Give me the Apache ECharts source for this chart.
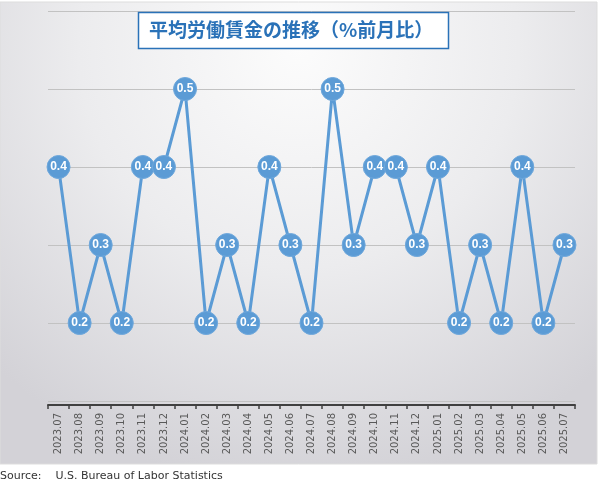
<!DOCTYPE html>
<html>
<head>
<meta charset="utf-8">
<script src="https://cdn.jsdelivr.net/npm/echarts@6/dist/echarts.min.js"></script>
<style>
  html, body { margin: 0; padding: 0; background: #fff; }
  #main { width: 600px; height: 488px; }
</style>
</head>
<body>
<div id="main"></div>
<script>
// 月次カテゴリ
var months = [
  '2023.07', '2023.08', '2023.09', '2023.10', '2023.11', '2023.12',
  '2024.01', '2024.02', '2024.03', '2024.04', '2024.05', '2024.06',
  '2024.07', '2024.08', '2024.09', '2024.10', '2024.11', '2024.12',
  '2025.01', '2025.02', '2025.03', '2025.04', '2025.05', '2025.06',
  '2025.07'
];
// 平均労働賃金 前月比（%）
var wageMoM = [
  0.4, 0.2, 0.3, 0.2, 0.4, 0.4,
  0.5, 0.2, 0.3, 0.2, 0.4, 0.3,
  0.2, 0.5, 0.3, 0.4, 0.4, 0.3,
  0.4, 0.2, 0.3, 0.2, 0.4, 0.2,
  0.3
];
var titleText = '平均労働賃金の推移（%前月比）';
var sourceText = 'Source:    U.S. Bureau of Labor Statistics';

var chart = echarts.init(document.getElementById('main'));

var option = {
  animation: false,
  backgroundColor: '#fff',
  graphic: [
    // 背景のグラデーション
    {
      type: 'rect',
      z: -10,
      shape: { x: 0, y: 2, width: 597, height: 462 },
      style: {
        fill: {
          type: 'radial', x: 0.5, y: 0.1, r: 0.95,
          colorStops: [
            { offset: 0, color: '#fcfcfc' },
            { offset: 0.5, color: '#ececee' },
            { offset: 1, color: '#d3d2d7' }
          ]
        },
        stroke: '#dddddd',
        lineWidth: 1
      }
    },
    // タイトル枠
    {
      type: 'rect',
      z: 10,
      shape: { x: 138.5, y: 12.5, width: 310, height: 36 },
      style: { fill: '#ffffff', stroke: '#2a72b8', lineWidth: 1.5 }
    },
    {
      type: 'text',
      z: 11,
      left: 149,
      top: 20,
      style: {
        text: titleText,
        fill: '#2a72b8',
        font: 'bold 19px "Noto Sans CJK JP"'
      }
    },
    {
      type: 'text',
      left: 0,
      top: 471,
      style: {
        text: sourceText,
        fill: '#333333',
        font: '11px "DejaVu Sans"'
      }
    }
  ],
  grid: {
    left: 48,
    right: 25,
    top: 11,
    height: 390
  },
  xAxis: {
    type: 'category',
    data: months,
    boundaryGap: true,
    offset: 4,
    axisLine: { lineStyle: { color: '#404040', width: 2 } },
    axisTick: { show: true, inside: false, length: 4, lineStyle: { color: '#404040', width: 1.5 } },
    axisLabel: {
      rotate: 90,
      interval: 0,
      margin: 8,
      color: '#595959',
      fontSize: 10,
      fontFamily: 'DejaVu Sans'
    }
  },
  yAxis: {
    type: 'value',
    min: 0.1,
    max: 0.6,
    interval: 0.1,
    axisLabel: { show: false },
    axisLine: { show: false },
    axisTick: { show: false },
    splitLine: { lineStyle: { color: '#c2c2c2', width: 1 } }
  },
  series: [
    {
      type: 'line',
      data: wageMoM,
      symbol: 'circle',
      symbolSize: 23,
      lineStyle: { color: '#5b9bd5', width: 3 },
      itemStyle: { color: '#5b9bd5', borderColor: '#6fa8dc', borderWidth: 1 },
      label: {
        show: true,
        position: 'inside',
        color: '#ffffff',
        fontWeight: 'bold',
        fontSize: 12,
        fontFamily: 'Liberation Sans',
        formatter: function (p) { return p.value.toFixed(1); }
      }
    }
  ]
};

chart.setOption(option);
</script>
</body>
</html>
